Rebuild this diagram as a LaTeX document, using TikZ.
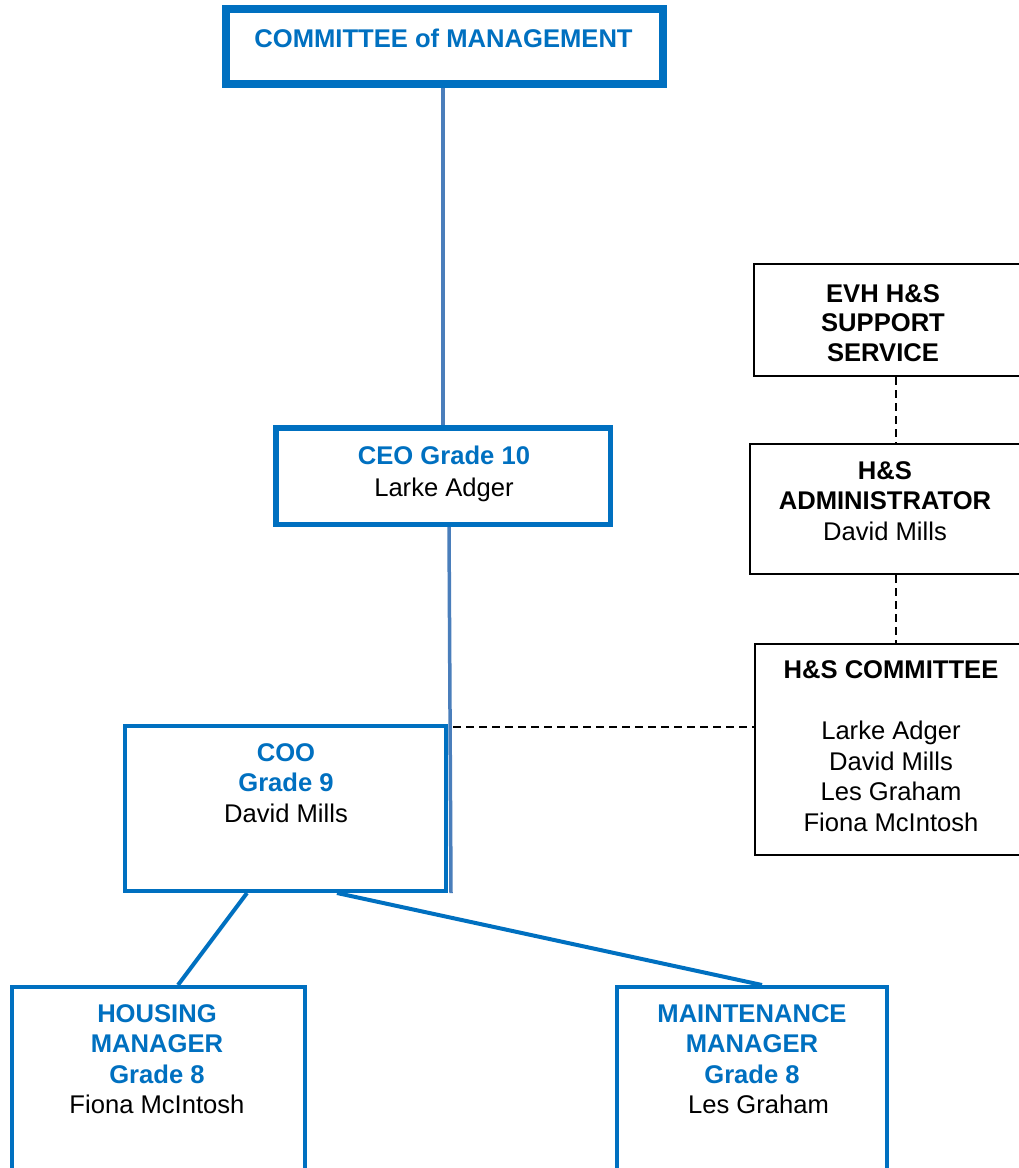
\documentclass[tikz,border=0pt]{standalone}
\usepackage{fontspec}
\setmainfont{Liberation Sans}
\usetikzlibrary{calc}
\definecolor{orgblue}{HTML}{0070C0}
\definecolor{linkblue}{HTML}{4A7EBB}
\tikzset{
  box/.style={draw, rectangle, inner sep=0pt, fill=white},
  bluebox/.style={box, draw=orgblue},
  blackbox/.style={box, draw=black, line width=2pt},
  txt/.style={anchor=north, align=center, inner sep=0pt, font=\fontsize{25.6}{30.5}\selectfont},
  conn/.style={draw=linkblue, line width=3.5pt},
  bconn/.style={draw=orgblue, line width=4pt},
  dashline/.style={draw=black, line width=1.5pt, dash pattern=on 8pt off 5pt}
}
\newcommand{\bb}[1]{\textbf{\textcolor{orgblue}{#1}}}
\begin{document}
\begin{tikzpicture}[x=1pt, y=-1pt]
\useasboundingbox (0,0) rectangle (1019,1168);
\clip (0,0) rectangle (1019,1168);
\fill[white] (0,0) rectangle (1019,1168);

% boxes
\node[bluebox, line width=7.5pt, minimum width=437pt, minimum height=75pt] (comm) at (444.5,46.5) {};
\node[bluebox, line width=5.5pt, minimum width=334.5pt, minimum height=96.5pt] (ceo) at (443,476) {};
\node[bluebox, line width=4pt, minimum width=321pt, minimum height=165pt] (coo) at (285.5,808.5) {};
\node[blackbox, minimum width=271pt, minimum height=112pt] (evh) at (889.5,320) {};
\node[blackbox, minimum width=275pt, minimum height=130pt] (adm) at (887.5,509) {};
\node[blackbox, minimum width=270pt, minimum height=211pt] (hsc) at (890,749.5) {};
\node[bluebox, line width=4pt, minimum width=293pt, minimum height=188pt] (hou) at (158.5,1081) {};
\node[bluebox, line width=4pt, minimum width=270pt, minimum height=188pt] (mai) at (752,1081) {};

% texts
\node[txt] (commT) at (443.5,29) {\bb{COMMITTEE of MANAGEMENT}};
\node[txt] (ceoT) at (444,446) {\bb{CEO Grade 10}\\[1.5pt]Larke Adger};
\node[txt] (cooT) at (286,743) {\bb{COO}\\\bb{Grade 9}\\David Mills};
\node[txt] (evhT) at (883,284) {\textbf{EVH H\&S}\\[-1pt]\textbf{SUPPORT}\\[-1pt]\textbf{SERVICE}};
\node[txt] (admT) at (885,461) {\textbf{H\&S}\\\textbf{ADMINISTRATOR}\\David Mills};
\node[txt] (hscT) at (891,660) {\textbf{H\&S COMMITTEE}\\[31pt]Larke Adger\\David Mills\\Les Graham\\Fiona McIntosh};
\node[txt] (houT) at (157,1004) {\bb{HOUSING}\\\bb{MANAGER}\\\bb{Grade 8}\\Fiona McIntosh};
\node[txt] (maiT) at (752,1004) {\bb{MAINTENANCE}\\\bb{MANAGER}\\\bb{Grade 8}\\\hspace*{13pt}Les Graham};

% connectors
\draw[conn] ($(comm.south)+(-1.5,0)$) -- (ceo.north);
\draw[conn] ($(ceo.south)+(6,0)$) -- ($(coo.south east)+(3,0)$);
\draw[dashline] ($(coo.north east)+(5,3)$) coordinate (d1) -- (d1 -| hsc.west);
\draw[dashline] ($(evh.south)+(6.5,0)$) -- ($(adm.north)+(8.5,0)$);
\draw[dashline] ($(adm.south)+(8.5,0)$) -- ($(hsc.north)+(6,0)$);
\draw[bconn] ($(coo.south)+(-38.5,0)$) -- ($(hou.north)+(19.5,0)$);
\draw[bconn] ($(coo.south)+(51.5,0)$) -- ($(mai.north)+(10,0)$);
\end{tikzpicture}
\end{document}
